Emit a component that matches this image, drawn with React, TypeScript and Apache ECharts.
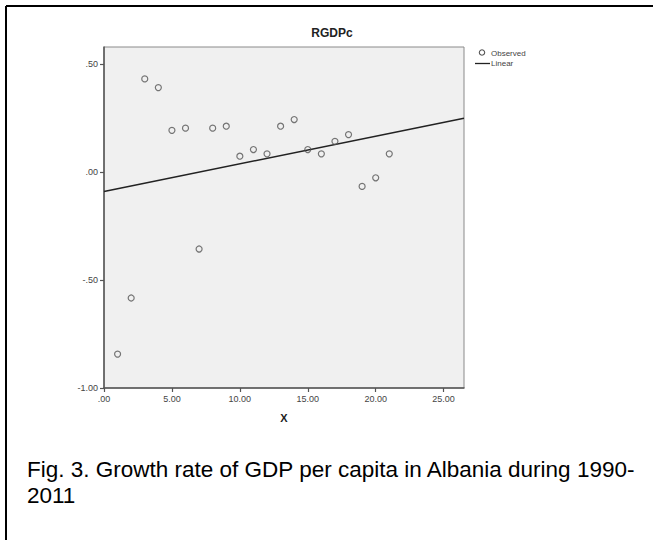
import React, { useEffect, useRef } from "react";
import * as echarts from "echarts";

// Observation index (1 = 1991 ... 21 = 2011)
const xValues = [1, 2, 3, 4, 5, 6, 7, 8, 9, 10, 11, 12, 13, 14, 15, 16, 17, 18, 19, 20, 21];
// Growth rate of real GDP per capita
const rgdpc = [
  -0.843, -0.583, 0.432, 0.392, 0.194, 0.204, -0.356, 0.204, 0.213, 0.074, 0.105,
  0.085, 0.213, 0.244, 0.105, 0.085, 0.143, 0.174, -0.066, -0.026, 0.085,
];
const xTicks = [0, 5, 10, 15, 20, 25];
const yTicks = [-1, -0.5, 0, 0.5];
const xRange = [0, 26.5];
const yRange = [-1, 0.58];
const legendNames = ["Observed", "Linear"];
const chartTitle = "RGDPc";
const xName = "X";
const captionLines = [
  "Fig. 3. Growth rate of GDP per capita in Albania during 1990-",
  "2011",
];

const fmt = (v: number) => {
  const s = Math.abs(v).toFixed(2).replace(/^0/, "");
  return (v < 0 ? "-" : "") + s;
};

function linearFit(xs: number[], ys: number[]) {
  const n = xs.length;
  const mx = xs.reduce((a, b) => a + b, 0) / n;
  const my = ys.reduce((a, b) => a + b, 0) / n;
  let sxy = 0;
  let sxx = 0;
  for (let i = 0; i < n; i++) {
    sxy += (xs[i] - mx) * (ys[i] - my);
    sxx += (xs[i] - mx) * (xs[i] - mx);
  }
  const slope = sxy / sxx;
  return { slope, intercept: my - slope * mx };
}

const FONT = '"Liberation Sans", Arial, Helvetica, sans-serif';

export default function App() {
  const ref = useRef<HTMLDivElement>(null);

  useEffect(() => {
    if (!ref.current) return;
    const chart = echarts.init(ref.current, null, { renderer: "svg" });
    const { slope, intercept } = linearFit(xValues, rgdpc);
    const fitData = xRange.map((x) => [x, intercept + slope * x]);

    chart.setOption({
      animation: false,
      backgroundColor: "#ffffff",
      textStyle: { fontFamily: FONT },
      title: {
        text: chartTitle,
        left: 327,
        top: 22,
        textAlign: "center",
        textStyle: { fontSize: 12, fontWeight: "bold", color: "#222", fontFamily: FONT },
      },
      grid: {
        left: 104,
        top: 47,
        width: 360,
        height: 341,
        show: true,
        backgroundColor: "#f0f0f0",
        borderColor: "#8a8a8a",
        borderWidth: 1,
      },
      xAxis: {
        type: "value",
        min: xRange[0],
        max: xRange[1],
        interval: 5,
        name: xName,
        nameLocation: "middle",
        nameGap: 24,
        nameTextStyle: { fontSize: 11, fontWeight: "bold", color: "#222", fontFamily: FONT },
        axisLine: { show: true, onZero: false, lineStyle: { color: "#555", width: 1.5 } },
        axisTick: { show: true, length: 4, customValues: xTicks, lineStyle: { color: "#555", width: 1.2 } },
        axisLabel: {
          customValues: xTicks,
          formatter: (v: number) => fmt(v),
          fontSize: 9,
          color: "#444",
          margin: 6,
          fontFamily: FONT,
        },
        splitLine: { show: false },
      },
      yAxis: {
        type: "value",
        min: yRange[0],
        max: yRange[1],
        interval: 0.5,
        axisLine: { show: true, onZero: false, lineStyle: { color: "#555", width: 1.5 } },
        axisTick: { show: true, length: 4, customValues: yTicks, lineStyle: { color: "#555", width: 1.2 } },
        axisLabel: {
          customValues: yTicks,
          formatter: (v: number) => fmt(v),
          fontSize: 9,
          color: "#444",
          margin: 6,
          fontFamily: FONT,
        },
        splitLine: { show: false },
      },
      series: [
        {
          name: legendNames[0],
          type: "scatter",
          data: xValues.map((x, i) => [x, rgdpc[i]]),
          symbol: "circle",
          symbolSize: 6,
          itemStyle: { color: "rgba(0,0,0,0)", borderColor: "#555", borderWidth: 1.2 },
          z: 3,
        },
        {
          name: legendNames[1],
          type: "line",
          data: fitData,
          showSymbol: false,
          symbol: "none",
          lineStyle: { color: "#222", width: 1.5 },
          z: 2,
        },
      ],
      graphic: [
        // page frame (top and left rules)
        { type: "line", shape: { x1: 6, y1: 6, x2: 653, y2: 6 }, style: { stroke: "#000", lineWidth: 2 } },
        { type: "line", shape: { x1: 6, y1: 6, x2: 6, y2: 540 }, style: { stroke: "#000", lineWidth: 2 } },
        // legend
        { type: "circle", shape: { cx: 482, cy: 52.5, r: 2.7 }, style: { fill: "none", stroke: "#555", lineWidth: 1.1 } },
        {
          type: "text",
          x: 491,
          y: 53,
          style: { text: legendNames[0], font: `8px ${FONT}`, fill: "#444", verticalAlign: "middle" },
        },
        { type: "line", shape: { x1: 475, y1: 63.5, x2: 490, y2: 63.5 }, style: { stroke: "#222", lineWidth: 1.3 } },
        {
          type: "text",
          x: 491,
          y: 63.5,
          style: { text: legendNames[1], font: `8px ${FONT}`, fill: "#444", verticalAlign: "middle" },
        },
        // caption
        {
          type: "text",
          x: 27,
          y: 469,
          style: { text: captionLines[0], font: `22.5px ${FONT}`, fill: "#000", verticalAlign: "middle" },
        },
        {
          type: "text",
          x: 27,
          y: 495,
          style: { text: captionLines[1], font: `22.5px ${FONT}`, fill: "#000", verticalAlign: "middle" },
        },
      ],
    });

    return () => chart.dispose();
  }, []);

  return (
    <div
      ref={ref}
      style={{ position: "fixed", left: 0, top: 0, width: 653, height: 540, background: "#fff" }}
    />
  );
}
